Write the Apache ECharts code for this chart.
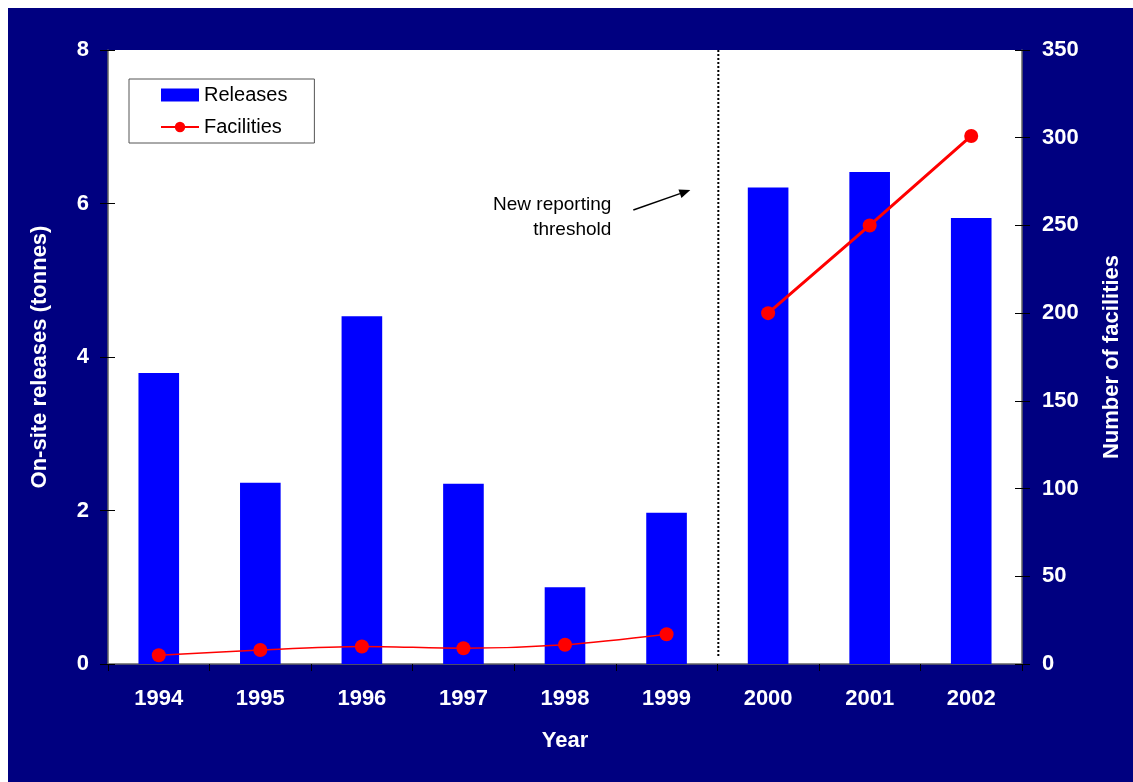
<!DOCTYPE html>
<html>
<head>
<meta charset="utf-8">
<script src="https://cdn.jsdelivr.net/npm/echarts@6/dist/echarts.min.js"></script>
<style>
  html, body { margin: 0; padding: 0; background: #ffffff; }
  #chart { position: absolute; left: 8px; top: 8px; width: 1125px; height: 774px; }
</style>
</head>
<body>
<div id="chart"></div>
<script>
// Annual on-site releases (tonnes) and number of reporting facilities
const years = ['1994', '1995', '1996', '1997', '1998', '1999', '2000', '2001', '2002'];
const releases = [3.79, 2.36, 4.53, 2.35, 1.0, 1.97, 6.21, 6.41, 5.81];
// Facilities under the old threshold (1994-1999) and the new one (2000-2002)
const facilitiesOld = [5, 8, 10, 9, 11, 17, '-', '-', '-'];
const facilitiesNew = ['-', '-', '-', '-', '-', '-', 200, 250, 301];
const releaseAxis = { min: 0, max: 8, interval: 2 };
const facilityAxis = { min: 0, max: 350, interval: 50 };
const thresholdNote = 'New reporting\nthreshold';

const FONT = "'Liberation Sans', Arial, sans-serif";
const chart = echarts.init(document.getElementById('chart'));

const axisLabelStyle = { color: '#ffffff', fontFamily: FONT, fontWeight: 'bold', fontSize: 22 };
const axisNameStyle = { color: '#ffffff', fontFamily: FONT, fontWeight: 'bold', fontSize: 22 };

// Tick marks that reach into the plot area, so value ticks cross the axis line
function innerTicks(range, position) {
  return {
    type: 'value',
    position: position,
    min: range.min, max: range.max, interval: range.interval,
    axisLine: { show: false },
    axisTick: { show: true, inside: true, length: 7, lineStyle: { color: '#000000' } },
    axisLabel: { show: false },
    splitLine: { show: false }
  };
}

chart.setOption({
  backgroundColor: '#000080',
  animation: false,
  grid: {
    left: 100, right: 111, top: 42, bottom: 118,
    show: true, backgroundColor: '#ffffff', borderWidth: 0
  },
  legend: {
    orient: 'vertical',
    left: 121, top: 71,
    padding: [6, 27, 6, 31],
    itemGap: 12,
    itemWidth: 38, itemHeight: 13,
    backgroundColor: '#ffffff',
    borderColor: '#555555', borderWidth: 1, borderRadius: 0,
    textStyle: { color: '#000000', fontFamily: FONT, fontSize: 20 },
    data: [
      { name: 'Releases', icon: 'rect' },
      { name: 'Facilities' }
    ]
  },
  xAxis: {
    type: 'category',
    data: years,
    name: 'Year',
    nameLocation: 'middle',
    nameGap: 66,
    nameTextStyle: axisNameStyle,
    axisLine: { lineStyle: { color: '#666666', width: 1.5 } },
    axisTick: { show: true, length: 7, lineStyle: { color: '#000000' } },
    axisLabel: Object.assign({ margin: 24 }, axisLabelStyle),
    splitLine: { show: false }
  },
  yAxis: [
    {
      type: 'value',
      min: releaseAxis.min, max: releaseAxis.max, interval: releaseAxis.interval,
      name: 'On-site releases (tonnes)',
      nameLocation: 'middle',
      nameGap: 57,
      nameTextStyle: axisNameStyle,
      axisLine: { show: true, lineStyle: { color: '#666666', width: 1.5 } },
      axisTick: { show: true, length: 8, lineStyle: { color: '#000000' } },
      axisLabel: Object.assign({ margin: 19 }, axisLabelStyle),
      splitLine: { show: false }
    },
    {
      type: 'value',
      position: 'right',
      min: facilityAxis.min, max: facilityAxis.max, interval: facilityAxis.interval,
      name: 'Number of facilities',
      nameLocation: 'middle',
      nameGap: 79,
      nameTextStyle: axisNameStyle,
      axisLine: { show: true, lineStyle: { color: '#666666', width: 1.5 } },
      axisTick: { show: true, length: 8, lineStyle: { color: '#000000' } },
      axisLabel: Object.assign({ margin: 20 }, axisLabelStyle),
      splitLine: { show: false }
    },
    innerTicks(releaseAxis, 'left'),
    innerTicks(facilityAxis, 'right')
  ],
  series: [
    {
      name: 'Releases',
      type: 'bar',
      yAxisIndex: 0,
      data: releases,
      barWidth: '40%',
      itemStyle: { color: '#0000ff' },
      z: 2
    },
    {
      name: 'Facilities',
      type: 'line',
      yAxisIndex: 1,
      data: facilitiesOld,
      smooth: 0.3,
      symbol: 'circle',
      symbolSize: 14,
      lineStyle: { color: '#ff0000', width: 1.5 },
      itemStyle: { color: '#ff0000' },
      z: 5
    },
    {
      name: 'Facilities',
      type: 'line',
      yAxisIndex: 1,
      data: facilitiesNew,
      symbol: 'circle',
      symbolSize: 14,
      lineStyle: { color: '#ff0000', width: 3 },
      itemStyle: { color: '#ff0000' },
      z: 5
    }
  ]
});

// Threshold divider between 1999 and 2000, with its note and arrow
function drawThreshold() {
  const xa = chart.convertToPixel({ xAxisIndex: 0 }, years[5]);
  const xb = chart.convertToPixel({ xAxisIndex: 0 }, years[6]);
  const bx = (xa + xb) / 2 + 1;
  const yTop = chart.convertToPixel({ yAxisIndex: 0 }, releaseAxis.max);
  const yBot = chart.convertToPixel({ yAxisIndex: 0 }, releaseAxis.min);
  const y6 = chart.convertToPixel({ yAxisIndex: 0 }, 6);

  const sx = bx - 85, sy = y6 + 6.5;
  const tx = bx - 28, ty = y6 - 13.5;
  const ang = Math.atan2(ty - sy, tx - sx);
  const hl = 11, hw = 4.5;
  const bxh = tx - hl * Math.cos(ang), byh = ty - hl * Math.sin(ang);
  const head = [
    [tx, ty],
    [bxh + hw * Math.sin(ang), byh - hw * Math.cos(ang)],
    [bxh - hw * Math.sin(ang), byh + hw * Math.cos(ang)]
  ];

  chart.setOption({
    graphic: [
      {
        type: 'line', z: 10,
        shape: { x1: bx, y1: yTop, x2: bx, y2: yBot - 7 },
        style: { stroke: '#000000', lineWidth: 2, lineDash: [2, 2] }
      },
      {
        type: 'line', z: 10,
        shape: { x1: sx, y1: sy, x2: bxh, y2: byh },
        style: { stroke: '#000000', lineWidth: 1.5 }
      },
      {
        type: 'polygon', z: 10,
        shape: { points: head },
        style: { fill: '#000000' }
      },
      {
        type: 'text', z: 10,
        x: bx - 107, y: y6 - 11,
        style: {
          text: thresholdNote,
          fill: '#000000',
          font: '19px ' + FONT,
          lineHeight: 25,
          align: 'right',
          verticalAlign: 'top'
        }
      }
    ]
  });
}
drawThreshold();
</script>
</body>
</html>
